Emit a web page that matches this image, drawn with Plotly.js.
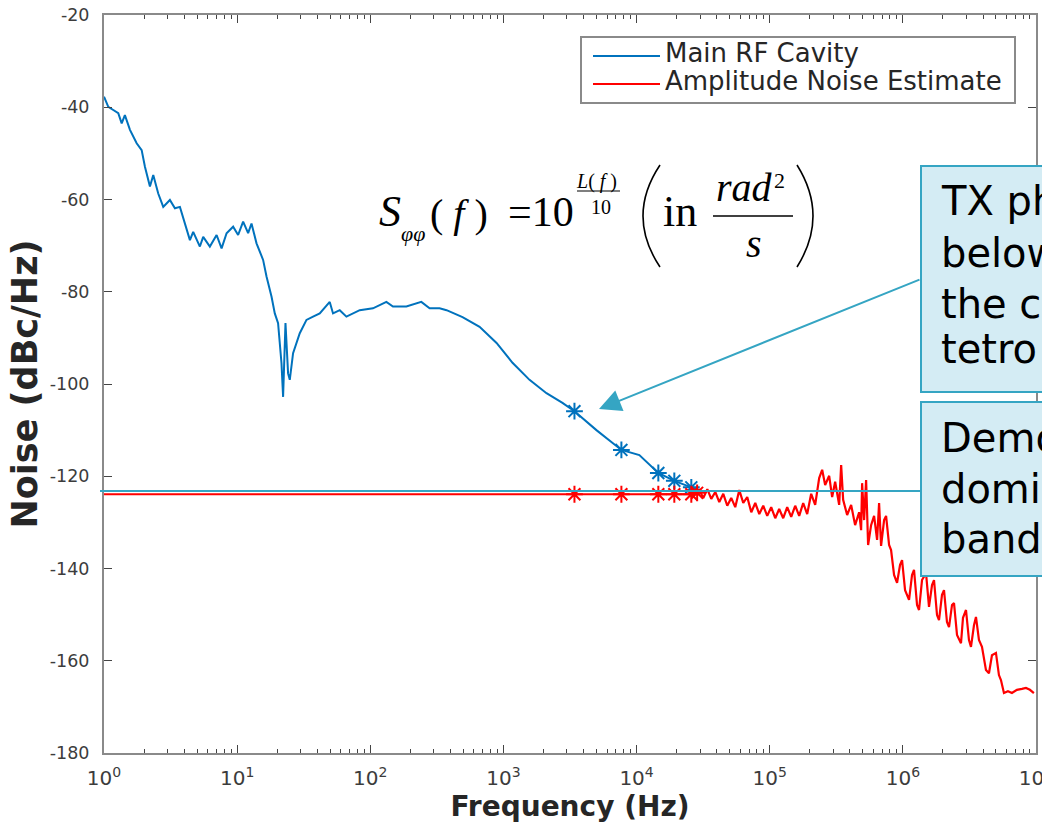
<!DOCTYPE html>
<html><head><meta charset="utf-8">
<script src="https://cdn.plot.ly/plotly-3.0.1.min.js"></script>
<style>html,body{margin:0;padding:0;background:#fff;overflow:hidden;} #chart{width:1042px;height:824px;}</style>
</head><body><div id="chart"></div>
<script>
// ---------------- data ----------------
const seriesNames = ['Main RF Cavity', 'Amplitude Noise Estimate'];

const freqCavity = [1, 1.077, 1.174, 1.28, 1.358, 1.435, 1.567, 1.759, 1.918, 2.03, 2.213, 2.344, 2.555, 2.786, 3.126, 3.41, 3.717, 4.053, 4.418, 4.677, 5.25, 5.56, 6.24, 7.01, 7.64, 8.33, 9.33, 10.17, 11.09, 12.09, 12.82, 13.98, 15.67, 16.62, 18.13, 19.18, 20.3, 21.53, 22.14, 23.07, 24.13, 24.85, 26.31, 29.54, 33.17, 37.17, 41.73, 49.6, 52.5, 58.96, 66.2, 83.3, 104.8, 132.1, 148, 186.6, 241.7, 279, 331.6, 374, 493, 662, 888, 1170, 1570, 2106, 2776, 3416, 4994, 7691, 10496, 14570, 19210, 25770, 33390];
const noiseCavity = [-37.7, -39.9, -40.6, -41.3, -43.5, -41.7, -44.9, -47.8, -49.3, -52.9, -57.2, -54.7, -58.7, -61.6, -60.1, -61.9, -61.6, -65.2, -68.8, -67.0, -70.2, -68.1, -70.2, -67.7, -70.6, -67.3, -65.9, -67.7, -64.8, -67.3, -65.2, -69.5, -73.1, -76.7, -81.1, -84.7, -86.8, -95.5, -102.8, -86.8, -97.7, -99.1, -93.3, -89.0, -86.1, -85.4, -84.7, -82.2, -84.7, -84.0, -85.4, -84.0, -83.6, -82.2, -83.2, -83.2, -82.2, -83.6, -83.6, -84.0, -85.5, -87.6, -91.1, -95.4, -99.1, -102.0, -104.1, -105.9, -110.0, -114.3, -115.4, -119.3, -121.0, -122.4, -123.5];

const freqCavityMarks = [3416, 7691, 14570, 19210, 25770];
const noiseCavityMarks = [-105.9, -114.3, -119.3, -121.0, -122.4];

const freqAmp = [1, 25770, 2.96e4, 3.17e4, 3.40e4, 3.64e4, 3.90e4, 4.18e4, 4.48e4, 4.80e4, 5.14e4, 5.51e4, 5.91e4, 6.33e4, 6.78e4, 7.27e4, 7.79e4, 8.35e4, 8.94e4, 9.58e4, 1.026e5, 1.10e5, 1.178e5, 1.263e5, 1.353e5, 1.450e5, 1.554e5, 1.665e5, 1.784e5, 1.912e5, 2.048e5, 2.195e5, 2.352e5, 2.477e5, 2.609e5, 2.796e5, 2.944e5, 3.101e5, 3.323e5, 3.440e5, 3.561e5, 3.815e5, 4.088e5, 4.380e5, 4.694e5, 4.859e5, 4.943e5, 5.117e5, 5.297e5, 5.483e5, 5.774e5, 6.081e5, 6.404e5, 6.630e5, 6.862e5, 7.228e5, 7.482e5, 7.880e5, 8.157e5, 8.590e5, 9.047e5, 9.528e5, 9.863e5, 1.039e6, 1.113e6, 1.172e6, 1.213e6, 1.278e6, 1.323e6, 1.393e6, 1.493e6, 1.572e6, 1.656e6, 1.714e6, 1.805e6, 1.869e6, 1.968e6, 2.037e6, 2.145e6, 2.222e6, 2.340e6, 2.422e6, 2.551e6, 2.733e6, 2.829e6, 2.980e6, 3.138e6, 3.249e6, 3.421e6, 3.541e6, 3.729e6, 3.928e6, 4.209e6, 4.433e6, 4.669e6, 5.003e6, 5.268e6, 5.454e6, 5.744e6, 6.155e6, 6.595e6, 7.190e6, 7.840e6, 8.401e6, 9.001e6, 9.643e6];
const noiseAmp = [-123.9, -123.9, -123.0, -124.7, -122.8, -124.9, -123.4, -125.6, -123.8, -126.4, -124.7, -126.7, -123.0, -125.8, -124.5, -127.8, -125.8, -128.2, -126.4, -128.6, -126.7, -129.1, -127.1, -129.1, -126.7, -128.8, -126.4, -128.6, -125.8, -128.2, -123.8, -126.2, -120.4, -118.6, -121.9, -119.9, -124.5, -121.2, -126.2, -117.6, -125.1, -128.4, -126.2, -130.6, -127.8, -131.7, -121.5, -129.5, -120.8, -134.9, -130.6, -128.6, -133.8, -125.8, -135.1, -129.5, -128.6, -134.9, -136.0, -141.4, -143.1, -139.2, -138.2, -144.7, -146.8, -141.4, -140.3, -147.9, -149.0, -142.5, -141.0, -148.3, -143.6, -142.5, -150.1, -151.2, -145.7, -144.7, -151.6, -152.7, -147.9, -147.5, -154.4, -156.2, -150.7, -149.0, -155.5, -157.0, -152.3, -150.5, -155.5, -157.0, -162.0, -162.7, -158.8, -158.3, -163.1, -164.2, -167.0, -166.6, -167.0, -166.3, -166.1, -165.9, -166.3, -167.0];

const freqAmpMarks = [3416, 7691, 14570, 19210, 25770, 28500];
const noiseAmpMarks = [-123.9, -123.9, -123.9, -123.9, -123.9, -123.6];

const xTickVals = [1, 10, 100, 1e3, 1e4, 1e5, 1e6, 1e7];
const xTickText = ['10<sup>0</sup>', '10<sup>1</sup>', '10<sup>2</sup>', '10<sup>3</sup>', '10<sup>4</sup>', '10<sup>5</sup>', '10<sup>6</sup>', '10<sup>7</sup>'];
const yTickVals = [-180, -160, -140, -120, -100, -80, -60, -40, -20];
const yTickText = ['-180', '-160', '-140', '-120', '-100', '-80', '-60', '-40', '-20'];
const xTitle = 'Frequency (Hz)';
const yTitle = 'Noise (dBc/Hz)';
const calloutPhase = ['TX ph', 'below', 'the c', 'tetro'];
const calloutDemod = ['Demo', 'domin', 'band.'];

// ---------------- layout helpers ----------------
const W = 1042, H = 824;
const L = 104, R = 1036, T = 15, B = 753;
const px = x => (x - L) / (R - L);
const py = y => (B - y) / (B - T);

const BLUE = '#0072BD', RED = '#FF0000', TEAL = '#35a5c3', BOXFILL = '#d4ecf4';
const AXC = '#8a8a8a', TXT = '#3c3c3c';

const minorVals = [];
for (let d = 0; d < 7; d++) for (let k = 2; k <= 9; k++) minorVals.push(k * Math.pow(10, d));

const traces = [
  {x: freqCavity, y: noiseCavity, name: seriesNames[0], type: 'scatter', mode: 'lines',
   line: {color: BLUE, width: 2}, showlegend: false, hoverinfo: 'skip'},
  {x: freqCavityMarks, y: noiseCavityMarks, name: seriesNames[0], type: 'scatter', mode: 'markers',
   marker: {symbol: 'asterisk-open', size: 14, color: BLUE, line: {color: BLUE, width: 2}}, showlegend: false},
  {x: freqAmp, y: noiseAmp, name: seriesNames[1], type: 'scatter', mode: 'lines',
   line: {color: RED, width: 2.2}, showlegend: false},
  {x: freqAmpMarks, y: noiseAmpMarks, name: seriesNames[1], type: 'scatter', mode: 'markers',
   marker: {symbol: 'asterisk-open', size: 14, color: RED, line: {color: RED, width: 2}}, showlegend: false}
];

const shapes = [];
const annotations = [];

function ann(text, x, y, size, opts) {
  annotations.push(Object.assign({
    text: text, xref: 'paper', yref: 'paper', x: px(x), y: py(y),
    xanchor: 'left', yanchor: 'middle', showarrow: false, borderpad: 0, borderwidth: 0,
    font: {family: 'Liberation Serif', size: size, color: '#000'}
  }, opts || {}));
}
function line(x0, y0, x1, y1, color, width) {
  shapes.push({type: 'line', xref: 'paper', yref: 'paper', x0: px(x0), y0: py(y0), x1: px(x1), y1: py(y1),
    line: {color: color, width: width}});
}

// legend (manual, MATLAB style)
shapes.push({type: 'rect', xref: 'paper', yref: 'paper', x0: px(581), x1: px(1015), y0: py(37), y1: py(103),
  fillcolor: '#ffffff', line: {color: AXC, width: 2}});
line(593, 56, 660, 56, BLUE, 2);
line(593, 84, 660, 84, RED, 2);
ann(seriesNames[0], 665, 53, 26, {font: {family: 'DejaVu Sans', size: 26, color: '#262626'}});
ann(seriesNames[1], 665, 81, 26, {font: {family: 'DejaVu Sans', size: 26, color: '#262626'}});

// equation S_phiphi(f) = 10^(L(f)/10) (in rad^2/s)
ann('<i>S</i>', 379, 212, 44);
ann('<i>φφ</i>', 401, 233, 22);
ann('( <i>f</i> )', 430, 213, 40);
ann('=10', 508, 212, 42);
ann('<i>L</i>( <i>f</i> )', 576, 181, 20);
line(577, 191, 620, 191, '#000', 1.2);
ann('10', 591, 207, 20);
shapes.push({type: 'path', xref: 'paper', yref: 'paper',
  path: `M ${px(660)},${py(165)} Q ${px(626)},${py(216)} ${px(660)},${py(267)}`, line: {color: '#000', width: 1.6}});
ann('in', 663, 212, 44);
ann('<i>rad</i>', 716, 187, 40);
ann('2', 774, 180, 22);
line(713, 216, 793, 216, '#000', 1.5);
ann('<i>s</i>', 746, 244, 40);
shapes.push({type: 'path', xref: 'paper', yref: 'paper',
  path: `M ${px(797)},${py(165)} Q ${px(829)},${py(216)} ${px(797)},${py(267)}`, line: {color: '#000', width: 1.6}});

// callouts
line(100, 491, 921, 491, TEAL, 2);
shapes.push({type: 'rect', xref: 'paper', yref: 'paper', x0: px(921), x1: px(1060), y0: py(166), y1: py(392),
  fillcolor: BOXFILL, line: {color: TEAL, width: 2}});
shapes.push({type: 'rect', xref: 'paper', yref: 'paper', x0: px(921), x1: px(1060), y0: py(402), y1: py(576),
  fillcolor: BOXFILL, line: {color: TEAL, width: 2}});
const cf = {family: 'DejaVu Sans', size: 40, color: '#000'};
[201, 253, 304, 349].forEach((yy, i) => ann(calloutPhase[i], 941, yy, 40, {font: cf}));
[438, 489, 539].forEach((yy, i) => ann(calloutDemod[i], 941, yy, 40, {font: cf}));

annotations.push({text: '', xref: 'paper', yref: 'paper', x: px(599), y: py(409), showarrow: true,
  ax: 322, ay: -130, arrowhead: 2, arrowsize: 2.2, arrowwidth: 2, arrowcolor: TEAL, standoff: 0});

const layout = {
  width: W, height: H,
  margin: {l: L, r: W - R, t: T, b: H - B, pad: 0},
  paper_bgcolor: '#ffffff', plot_bgcolor: '#ffffff',
  showlegend: false,
  xaxis: {
    type: 'log', range: [0, 7], automargin: false,
    tickmode: 'array', tickvals: xTickVals, ticktext: xTickText,
    ticks: 'inside', ticklen: 8, tickwidth: 1, tickcolor: '#444',
    showline: true, linecolor: AXC, linewidth: 2, mirror: 'allticks',
    showgrid: false, zeroline: false, ticklabeloverflow: 'allow', ticklabelstandoff: 6,
    tickfont: {family: 'DejaVu Sans', size: 20, color: TXT},
    minor: {tickmode: 'array', tickvals: minorVals, ticks: 'inside', ticklen: 4, tickwidth: 1, tickcolor: '#444', showgrid: false},
    title: {text: xTitle, standoff: 6, font: {family: 'DejaVu Sans', size: 28, weight: 'bold', color: '#262626'}}
  },
  yaxis: {
    range: [-180, -20], automargin: false,
    tickmode: 'array', tickvals: yTickVals, ticktext: yTickText,
    ticks: 'inside', ticklen: 8, tickwidth: 1, tickcolor: '#444',
    showline: true, linecolor: AXC, linewidth: 2, mirror: 'allticks',
    showgrid: false, zeroline: false, ticklabelstandoff: 9,
    tickfont: {family: 'DejaVu Sans', size: 17.5, color: TXT},
    title: {text: yTitle, standoff: 2, font: {family: 'DejaVu Sans', size: 35, weight: 'bold', color: '#262626'}}
  },
  shapes: shapes,
  annotations: annotations
};

Plotly.newPlot('chart', traces, layout, {displayModeBar: false, staticPlot: true});
</script>
</body></html>
